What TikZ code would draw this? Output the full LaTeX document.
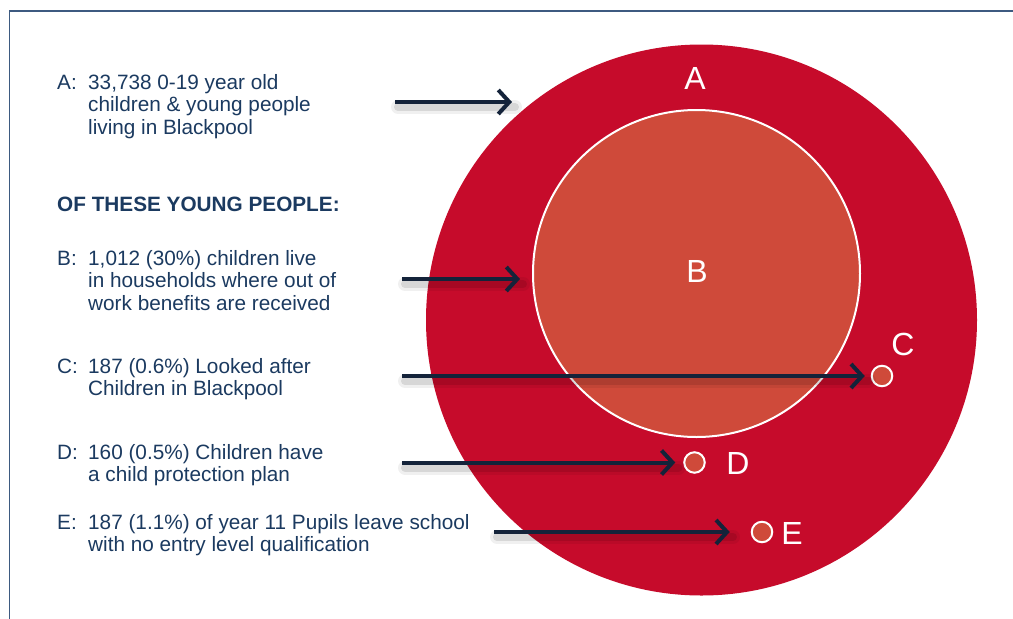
\documentclass[tikz,border=0pt]{standalone}
\usepackage{fontspec}
\setmainfont{Liberation Sans}
\usetikzlibrary{arrows.meta}
\definecolor{navytext}{HTML}{1B3A60}
\definecolor{navyarrow}{HTML}{14233A}
\definecolor{framecol}{HTML}{3D5A80}
\definecolor{bigred}{HTML}{C60B2B}
\definecolor{innerred}{HTML}{CF4A3A}
\tikzset{
  txt/.style={font=\fontsize{20.75}{22.5}\selectfont, text=navytext, inner sep=0pt, align=left, anchor=base west},
  biglabel/.style={font=\fontsize{32}{32}\selectfont, text=white, inner sep=0pt},
  dot/.style={circle, minimum size=20.5pt, inner sep=0pt, fill=innerred, draw=white, line width=2pt},
  pointer/.style={draw=navyarrow, line width=4pt, -{Straight Barb[length=11pt,width=24pt]}},
  shade1/.style={draw=black, line width=14pt, opacity=0.06, line cap=round},
  shade2/.style={draw=black, line width=8pt, opacity=0.10, line cap=round},
}
% blurred drop shadow along an arrow
\newcommand{\shadowed}[3][0pt]{%
  \path[shade1, shorten >=#1] ([shift={(3,5)}]#2) -- ([shift={(3,5)}]#3);
  \path[shade2, shorten >=#1] ([shift={(3,5)}]#2) -- ([shift={(3,5)}]#3);
}
\begin{document}
\begin{tikzpicture}[x=1pt,y=-1pt]
\useasboundingbox (0,0) rectangle (1013,619);
\fill[white] (0,0) rectangle (1013,619);
% frame lines
\draw[framecol, line width=1.5pt] (9.5,619) -- (9.5,11) -- (1013,11);

% circles
\node[circle, fill=bigred, minimum size=551pt, inner sep=0pt] (cA) at (701.5,320) {};
\node[circle, fill=innerred, draw=white, line width=2pt, minimum size=327pt, inner sep=0pt] (cB) at (696.5,273.5) {};

% big letters
\node[biglabel] (lA) at (695,78) {A};
\node[biglabel] (lB) at (697,271) {B};
\node[biglabel] (lC) at (903,344) {C};
\node[biglabel] (lD) at (738,463) {D};
\node[biglabel] (lE) at (792,533) {E};

% small dots
\node[dot] (dC) at (882,376) {};
\node[dot] (dD) at (694.5,462.5) {};
\node[dot] (dE) at (762,532) {};

% left column text (multi-line nodes sit on the baseline of their last line)
\node[txt] (kA) at (57,89) {A:};
\node[txt] (tA) at (88,134) {33,738 0-19 year old\\children \& young people\\living in Blackpool};
\node[txt, font=\fontsize{20.75}{22.5}\selectfont\bfseries] (head) at (57,211) {OF THESE YOUNG PEOPLE:};
\node[txt] (kB) at (57,265) {B:};
\node[txt] (tB) at (88,310) {1,012 (30\%) children live\\in households where out of\\work benefits are received};
\node[txt] (kC) at (57,373) {C:};
\node[txt] (tC) at (88,395.5) {187 (0.6\%) Looked after\\Children in Blackpool};
\node[txt] (kD) at (57,459) {D:};
\node[txt] (tD) at (88,481.5) {160 (0.5\%) Children have\\a child protection plan};
\node[txt] (kE) at (57,529) {E:};
\node[txt] (tE) at (88,551.5) {187 (1.1\%) of year 11 Pupils leave school\\with no entry level qualification};

% arrow start and end points
\coordinate (sA) at (395,102);
\coordinate (eA) at (512,102);
\coordinate (sB) at (402,279);
\coordinate (eB) at (520,279);
\coordinate (sC) at (402,376);
\coordinate (sD) at (402,462.5);
\coordinate (sE) at (494,532);

% soft shadows under the arrows
\shadowed{sA}{eA}
\shadowed{sB}{eB}
\shadowed[16pt]{sC}{dC.center}
\shadowed[19pt]{sD}{dD.center}
\shadowed[32pt]{sE}{dE.center}

% arrows
\draw[pointer] (sA) -- (eA);
\draw[pointer] (sB) -- (eB);
\draw[pointer, shorten >=6pt] (sC) -- (dC.west);
\draw[pointer, shorten >=8pt] (sD) -- (dD.west);
\draw[pointer, shorten >=21pt] (sE) -- (dE.west);
\end{tikzpicture}
\end{document}
